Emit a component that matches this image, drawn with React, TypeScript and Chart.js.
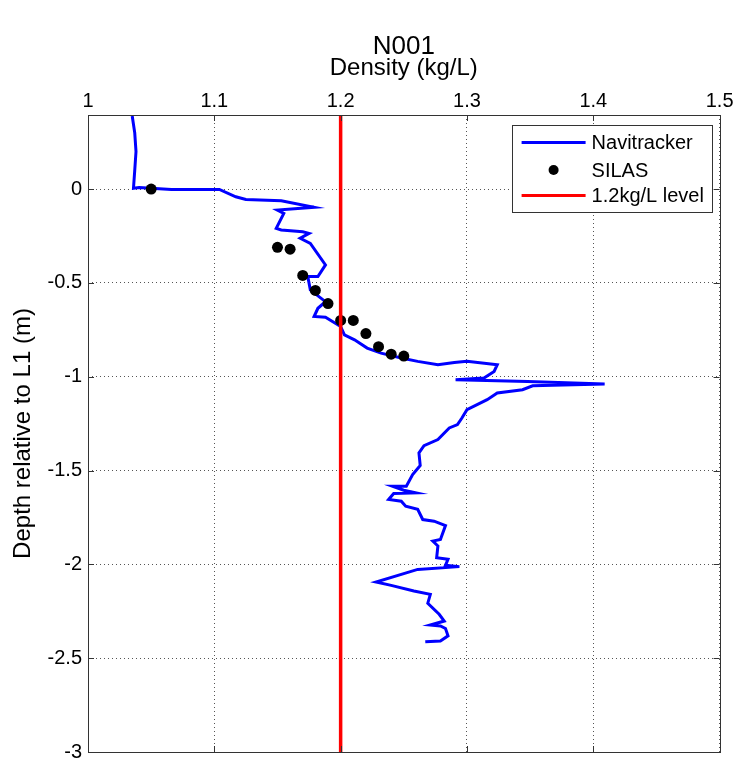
import React, { useEffect, useRef } from 'react';
import { Chart, registerables } from 'chart.js';

Chart.register(...registerables);

const FONT = "'Liberation Sans', Arial, Helvetica, sans-serif";

const chartTitle = 'N001';
const xAxisTitle = 'Density (kg/L)';
const yAxisTitle = 'Depth relative to L1 (m)';
const seriesNames = ['Navitracker', 'SILAS', '1.2kg/L level'];

// Navitracker density profile (kg/L) and depth (m)
const navDensity = [
  1.035, 1.037, 1.038, 1.037, 1.036, 1.0405, 1.066, 1.104, 1.117, 1.125,
  1.153, 1.179, 1.150, 1.155, 1.149, 1.153, 1.170, 1.175, 1.168, 1.176,
  1.188, 1.182, 1.174, 1.176, 1.188, 1.182, 1.179, 1.188, 1.200, 1.203,
  1.211, 1.221, 1.232, 1.248, 1.261, 1.277, 1.290, 1.300, 1.324, 1.3215,
  1.3135, 1.291, 1.348, 1.409, 1.352, 1.344, 1.324, 1.316, 1.300, 1.296,
  1.2925, 1.286, 1.277, 1.266, 1.262, 1.263, 1.257, 1.252, 1.241, 1.250,
  1.2595, 1.242, 1.238, 1.248, 1.2515, 1.261, 1.265, 1.274, 1.283, 1.279,
  1.273, 1.277, 1.276, 1.285, 1.283, 1.294, 1.261, 1.228, 1.240, 1.258,
  1.271, 1.269, 1.278, 1.282, 1.271, 1.279, 1.283, 1.285, 1.279, 1.267,
];
const navDepth = [
  0.39, 0.30, 0.20, 0.10, 0.005, 0.009, -0.002, -0.002, -0.041, -0.055,
  -0.062, -0.097, -0.112, -0.129, -0.209, -0.218, -0.227, -0.236, -0.262, -0.289,
  -0.404, -0.466, -0.466, -0.537, -0.600, -0.635, -0.679, -0.683, -0.732, -0.777,
  -0.803, -0.847, -0.874, -0.900, -0.918, -0.936, -0.924, -0.918, -0.936, -0.972,
  -1.007, -1.016, -1.025, -1.039, -1.048, -1.069, -1.087, -1.122, -1.176, -1.220,
  -1.255, -1.273, -1.335, -1.367, -1.406, -1.473, -1.521, -1.583, -1.583, -1.605,
  -1.619, -1.622, -1.654, -1.663, -1.690, -1.707, -1.761, -1.770, -1.793, -1.867,
  -1.876, -1.902, -1.965, -1.973, -2.005, -2.012, -2.027, -2.094, -2.112, -2.142,
  -2.160, -2.207, -2.266, -2.302, -2.323, -2.328, -2.342, -2.381, -2.408, -2.413,
];

// SILAS samples
const silasDensity = [1.05, 1.15, 1.16, 1.17, 1.18, 1.19, 1.20, 1.21, 1.22, 1.23, 1.24, 1.25];
const silasDepth = [0, -0.31, -0.32, -0.46, -0.54, -0.61, -0.70, -0.70, -0.77, -0.84, -0.88, -0.89];

// Reference level
const levelDensity = [1.2, 1.2];
const levelDepth = [-3, 0.395];

const xMin = 1;
const xMax = 1.5;
const xStep = 0.1;
const yMin = -3;
const yMax = 0.395;
const yStep = 0.5;

const NAVY_BLUE = '#0000ff';
const SILAS_BLACK = '#000000';
const LEVEL_RED = '#ff0000';
const FRAME = '#333333';

const zip = (xs: number[], ys: number[]) => xs.map((x, i) => ({ x, y: ys[i] }));
const fmt = (v: number | string) => String(Math.round(Number(v) * 100) / 100);

const framePlugin = {
  id: 'matlabFrame',
  afterDraw(chart: any) {
    const { ctx, chartArea } = chart;
    const { left, right, top, bottom } = chartArea;
    ctx.save();
    // axes box
    ctx.strokeStyle = FRAME;
    ctx.lineWidth = 1;
    ctx.strokeRect(Math.round(left) + 0.5, Math.round(top) + 0.5, Math.round(right - left), Math.round(bottom - top));
    // inward ticks on all four sides
    const tl = 6;
    ctx.beginPath();
    chart.scales.x.ticks.forEach((t: any) => {
      const px = Math.round(chart.scales.x.getPixelForValue(t.value)) + 0.5;
      ctx.moveTo(px, top);
      ctx.lineTo(px, top + tl);
      ctx.moveTo(px, bottom);
      ctx.lineTo(px, bottom - tl);
    });
    chart.scales.y.ticks.forEach((t: any) => {
      const py = Math.round(chart.scales.y.getPixelForValue(t.value)) + 0.5;
      ctx.moveTo(left, py);
      ctx.lineTo(left + tl, py);
      ctx.moveTo(right, py);
      ctx.lineTo(right - tl, py);
    });
    ctx.stroke();

    // chart title
    ctx.fillStyle = '#000';
    ctx.font = `26px ${FONT}`;
    ctx.textAlign = 'center';
    ctx.textBaseline = 'middle';
    ctx.fillText(chartTitle, (left + right) / 2, 47);

    // legend
    const lw = 200;
    const lh = 87;
    const lx = right - 8 - lw;
    const ly = top + 10;
    ctx.fillStyle = '#fff';
    ctx.fillRect(lx, ly, lw, lh);
    ctx.strokeStyle = FRAME;
    ctx.lineWidth = 1;
    ctx.strokeRect(Math.round(lx) + 0.5, Math.round(ly) + 0.5, lw, lh);
    const rows = [ly + 17.5, ly + 45, ly + 70.5];
    const sx0 = lx + 10;
    const sx1 = lx + 74;
    ctx.font = `20px ${FONT}`;
    ctx.textAlign = 'left';
    ctx.textBaseline = 'middle';
    // Navitracker
    ctx.strokeStyle = NAVY_BLUE;
    ctx.lineWidth = 3;
    ctx.beginPath();
    ctx.moveTo(sx0, rows[0]);
    ctx.lineTo(sx1, rows[0]);
    ctx.stroke();
    // SILAS
    ctx.fillStyle = SILAS_BLACK;
    ctx.beginPath();
    ctx.arc((sx0 + sx1) / 2, rows[1], 5, 0, Math.PI * 2);
    ctx.fill();
    // level
    ctx.strokeStyle = LEVEL_RED;
    ctx.lineWidth = 3;
    ctx.beginPath();
    ctx.moveTo(sx0, rows[2]);
    ctx.lineTo(sx1, rows[2]);
    ctx.stroke();
    ctx.fillStyle = '#000';
    seriesNames.forEach((n, i) => ctx.fillText(n, lx + 80, rows[i] + 1));
    ctx.restore();
  },
};

export default function App() {
  const ref = useRef<HTMLCanvasElement | null>(null);

  useEffect(() => {
    if (!ref.current) return;
    const chart = new Chart(ref.current, {
      type: 'scatter',
      data: {
        datasets: [
          {
            label: seriesNames[2],
            data: zip(levelDensity, levelDepth),
            showLine: true,
            borderColor: LEVEL_RED,
            backgroundColor: LEVEL_RED,
            borderWidth: 3.5,
            pointRadius: 0,
            order: 0,
          },
          {
            label: seriesNames[1],
            data: zip(silasDensity, silasDepth),
            showLine: false,
            borderColor: SILAS_BLACK,
            backgroundColor: SILAS_BLACK,
            pointRadius: 5.5,
            pointBorderWidth: 0,
            order: 1,
          },
          {
            label: seriesNames[0],
            data: zip(navDensity, navDepth),
            showLine: true,
            borderColor: NAVY_BLUE,
            backgroundColor: NAVY_BLUE,
            borderWidth: 3,
            pointRadius: 0,
            tension: 0,
            order: 2,
          },
        ],
      },
      options: {
        animation: false,
        responsive: false,
        layout: { padding: { left: 0, top: 0, right: 16, bottom: 11 } },
        plugins: {
          legend: { display: false },
          title: { display: false },
          tooltip: { enabled: false },
        },
        scales: {
          x: {
            type: 'linear',
            position: 'top',
            min: xMin,
            max: xMax,
            afterFit: (s: any) => {
              s.height = 115;
            },
            ticks: {
              stepSize: xStep,
              color: '#000',
              padding: 2.5,
              font: { family: FONT, size: 20, lineHeight: 1.1 },
              maxRotation: 0,
              callback: (v: any) => fmt(v),
            },
            grid: { color: '#555', drawTicks: false, lineWidth: 1 },
            border: { display: false, dash: [1, 3] },
            title: {
              display: true,
              text: xAxisTitle,
              color: '#000',
              font: { family: FONT, size: 24, lineHeight: 1.2 },
              padding: { top: 54, bottom: 0 },
            },
          },
          y: {
            type: 'linear',
            min: yMin,
            max: yMax,
            afterFit: (s: any) => {
              s.width = 88;
            },
            ticks: {
              stepSize: yStep,
              includeBounds: false,
              color: '#000',
              padding: 6,
              font: { family: FONT, size: 20, lineHeight: 0.25 },
              callback: (v: any) => fmt(v),
            },
            grid: { color: '#555', drawTicks: false, lineWidth: 1 },
            border: { display: false, dash: [1, 3] },
            title: {
              display: true,
              text: yAxisTitle,
              color: '#000',
              font: { family: FONT, size: 24, lineHeight: 1.2 },
              padding: { top: 9, bottom: 0 },
            },
          },
        },
      },
      plugins: [framePlugin],
    } as any);
    return () => chart.destroy();
  }, []);

  return (
    <div style={{ position: 'absolute', left: 0, top: 0, width: 736, height: 763 }}>
      <canvas ref={ref} width={736} height={763} style={{ width: 736, height: 763, display: 'block' }} />
    </div>
  );
}
